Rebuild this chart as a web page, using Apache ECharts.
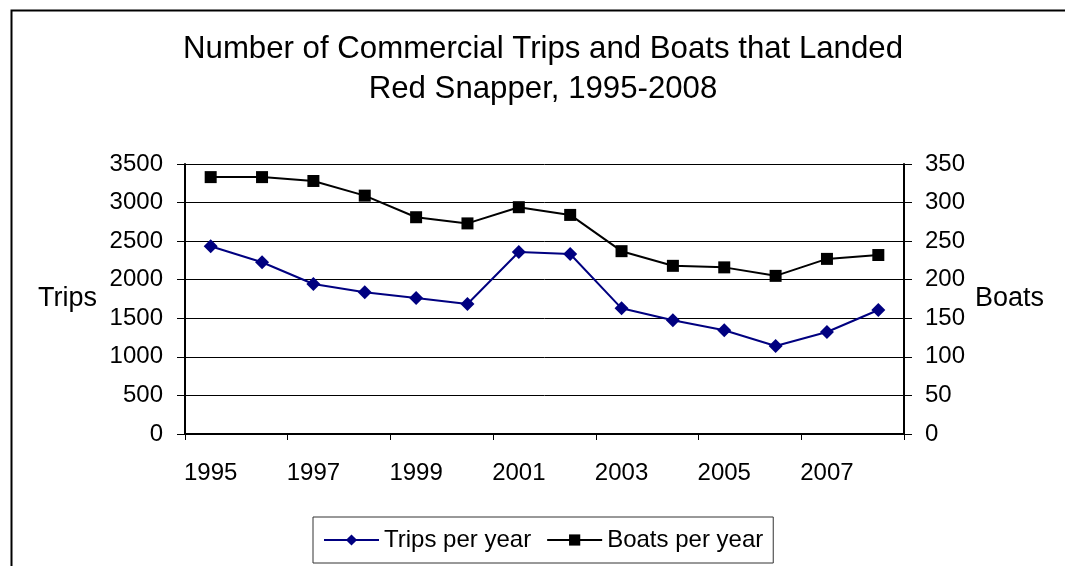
<!DOCTYPE html>
<html>
<head>
<meta charset="utf-8">
<script src="https://cdn.jsdelivr.net/npm/echarts@6/dist/echarts.min.js"></script>
<style>
html,body{margin:0;padding:0;background:#fff;}
#chart{width:1065px;height:566px;}
</style>
</head>
<body>
<div id="chart"></div>
<script>
const years = ['1995','1996','1997','1998','1999','2000','2001','2002','2003','2004','2005','2006','2007','2008'];
const tripsPerYear = [2433,2226,1944,1837,1763,1685,2359,2333,1629,1474,1344,1141,1322,1607];
const boatsPerYear = [333,333,328,309,281,273,294,284,237,218,216,205,227,232];
const titleText = 'Number of Commercial Trips and Boats that Landed\nRed Snapper, 1995-2008';

const FONT = '"Liberation Sans", Arial, sans-serif';
const plain = v => String(v);
const chart = echarts.init(document.getElementById('chart'), null, {renderer:'canvas'});
chart.setOption({
  animation:false,
  backgroundColor:'#fff',
  textStyle:{fontFamily:FONT, color:'#000'},
  graphic:[{
    type:'rect', left:9, top:8, silent:true,
    shape:{x:0,y:0,width:1100,height:600},
    style:{fill:'none', stroke:'#000', lineWidth:2}
  }],
  title:{
    text:titleText, left:543, top:29, textAlign:'center',
    padding:0,
    textStyle:{fontFamily:FONT, fontSize:31.2, fontWeight:'normal', color:'#000', lineHeight:40}
  },
  legend:{
    left:313, top:517,
    padding:[11,10,11,10],
    borderColor:'#333', borderWidth:1,
    itemWidth:55, itemHeight:14, itemGap:15,
    textStyle:{fontFamily:FONT, fontSize:24, color:'#000'},
    data:['Trips per year','Boats per year']
  },
  grid:{left:185, top:164, right:161, bottom:132, containLabel:false, outerBoundsMode:'none'},
  xAxis:{
    type:'category', data:years, boundaryGap:true,
    axisLine:{lineStyle:{color:'#000', width:2}},
    axisTick:{show:true, length:6, inside:false, alignWithLabel:false, lineStyle:{color:'#000'}},
    axisLabel:{interval:1, margin:27, fontSize:24, color:'#000', fontFamily:FONT},
    splitLine:{show:false}
  },
  yAxis:[{
    type:'value', min:0, max:3500, interval:500, position:'left',
    name:'Trips', nameLocation:'middle', nameRotate:0, nameGap:88, nameMoveOverlap:false,
    nameTextStyle:{fontSize:27, color:'#000', fontFamily:FONT},
    axisLine:{show:true, lineStyle:{color:'#000', width:2}},
    axisTick:{show:true, length:8, lineStyle:{color:'#000'}},
    axisLabel:{margin:22, fontSize:24, color:'#000', fontFamily:FONT, formatter:plain},
    splitLine:{show:true, lineStyle:{color:'#000', width:1}}
  },{
    type:'value', min:0, max:350, interval:50, position:'right',
    name:'Boats', nameLocation:'middle', nameRotate:0, nameGap:71, nameMoveOverlap:false,
    nameTextStyle:{fontSize:27, color:'#000', fontFamily:FONT},
    axisLine:{show:true, lineStyle:{color:'#000', width:2}},
    axisTick:{show:true, length:8, lineStyle:{color:'#000'}},
    axisLabel:{margin:21, fontSize:24, color:'#000', fontFamily:FONT, formatter:plain},
    splitLine:{show:false}
  }],
  series:[{
    name:'Trips per year', type:'line', yAxisIndex:0, data:tripsPerYear,
    symbol:'diamond', symbolSize:14,
    lineStyle:{color:'#000080', width:2},
    itemStyle:{color:'#000080'}
  },{
    name:'Boats per year', type:'line', yAxisIndex:1, data:boatsPerYear,
    symbol:'rect', symbolSize:12,
    lineStyle:{color:'#000', width:2},
    itemStyle:{color:'#000'}
  }]
});
</script>
</body>
</html>
